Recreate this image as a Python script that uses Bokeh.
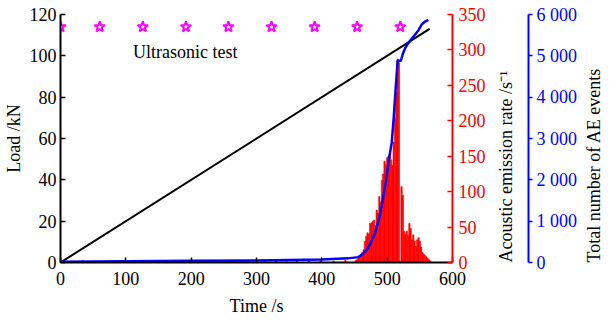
import math
from bokeh.plotting import figure
from bokeh.models import Range1d, LinearAxis, FixedTicker, Label
from bokeh.embed import file_html
from bokeh.resources import INLINE

FONT = "Liberation Serif"
FS = "18px"

# Load curve (kN vs s)
load_t = [0, 565]
load_kn = [0, 113]

# Ultrasonic test moments
us_t = [0, 60, 126, 192, 257, 323, 389, 454, 520]
us_y = [114] * len(us_t)

# Acoustic emission rate (events/s) bars
early_t = [28, 34, 58, 74, 90, 104, 138, 160, 176, 198, 214, 226, 244, 262, 280, 312, 330, 346, 362, 380, 398, 418, 436]
early_r = [2, 3, 2, 2, 1, 2, 1, 2, 2, 1, 2, 2, 1, 2, 1, 2, 2, 1, 2, 2, 2, 2, 3]
main_t = list(range(452, 568, 2))
main_r = [3, 4, 6, 8, 9, 14, 18, 30, 37, 42, 40, 55, 56, 58, 60, 52, 74, 70, 93, 85,
          116, 125, 143, 138, 148, 150, 153, 145, 137, 170, 204, 240, 287, 282, 0, 107,
          95, 44, 40, 44, 38, 55, 48, 32, 39, 30, 23, 32, 35, 30, 22, 14, 12, 10, 8, 6, 4, 2]
rate_t = early_t + main_t
rate_v = early_r + main_r

# Cumulative AE events
cum_t = [0, 100, 200, 300, 400, 440, 456, 463, 470, 474, 481, 488, 493, 498, 503, 507,
         510, 513, 516, 521, 524, 528, 531, 536, 541, 548, 553, 558, 563]
cum_n = [20, 30, 40, 50, 70, 100, 130, 210, 330, 450, 690, 1080, 1490, 1950, 2530, 2900,
         3500, 4200, 4880, 4880, 5050, 5200, 5280, 5380, 5480, 5620, 5760, 5830, 5870]

x_ticks = [0, 100, 200, 300, 400, 500, 600]
load_ticks = [0, 20, 40, 60, 80, 100, 120]
rate_ticks = [0, 50, 100, 150, 200, 250, 300, 350]
cum_ticks = [0, 1000, 2000, 3000, 4000, 5000, 6000]
cum_labels = ["0", "1 000", "2 000", "3 000", "4 000", "5 000", "6 000"]
rate_title = "Acoustic emission rate /s\u207b\u00b9"
cum_title = "Total number of AE events"

p = figure(frame_width=392, frame_height=248, x_range=Range1d(0, 600), y_range=Range1d(0, 120),
           output_backend="svg", toolbar_location=None,
           min_border_left=56, min_border_top=14, min_border_right=2, min_border_bottom=5)
p.extra_y_ranges = {"rate": Range1d(0, 350), "count": Range1d(0, 6000)}
p.outline_line_color = None
p.xgrid.visible = False
p.ygrid.visible = False
p.background_fill_color = "white"
p.border_fill_color = "white"


def style(ax, color, label):
    ax.axis_label = label
    ax.axis_label_text_font = FONT
    ax.axis_label_text_font_size = FS
    ax.axis_label_text_font_style = "normal"
    ax.axis_label_text_color = "black"
    ax.major_label_text_font = FONT
    ax.major_label_text_font_size = FS
    ax.major_label_text_color = color
    ax.axis_line_color = color
    ax.axis_line_width = 2
    ax.major_tick_line_color = color
    ax.major_tick_line_width = 1.5
    ax.minor_tick_line_color = None
    ax.major_tick_in = 5
    ax.major_tick_out = 0
    ax.major_label_standoff = 4


xa = p.xaxis[0]
xa.ticker = FixedTicker(ticks=x_ticks)
style(xa, "black", "Time /s")
xa.major_label_standoff = 9
xa.axis_label_standoff = 8

ya = p.yaxis[0]
ya.ticker = FixedTicker(ticks=load_ticks)
style(ya, "black", "Load /kN")
ya.axis_label_standoff = 3

ra = LinearAxis(y_range_name="rate", ticker=FixedTicker(ticks=rate_ticks))
style(ra, "red", rate_title)
ra.major_label_standoff = 6
ra.axis_label_standoff = 17
ra.axis_label_orientation = math.pi / 2
ra.axis_label_align = "start"
p.add_layout(ra, "right")

ba = LinearAxis(y_range_name="count", ticker=FixedTicker(ticks=cum_ticks))
style(ba, "blue", cum_title)
ba.major_tick_in = 0
ba.major_tick_out = 4
ba.major_label_overrides = {t: s for t, s in zip(cum_ticks, cum_labels)}
ba.axis_label_standoff = 14
ba.axis_label_orientation = math.pi / 2
ba.axis_label_align = "start"
p.add_layout(ba, "right")

p.vbar(x=rate_t, top=rate_v, width=2, bottom=0, fill_color="red", line_color="red",
       line_width=0.6, y_range_name="rate")
p.line(load_t, load_kn, line_color="black", line_width=2)
p.line(cum_t, cum_n, line_color="blue", line_width=2.5, y_range_name="count")
p.scatter(us_t, us_y, marker="star", size=11, fill_color="white", line_color="magenta",
          line_width=2)

p.add_layout(Label(x=111, y=102, text="Ultrasonic test", text_font=FONT, text_font_size=FS,
                   text_baseline="middle", text_align="left", text_color="black"))

open("out.html", "w").write(file_html(p, INLINE))
